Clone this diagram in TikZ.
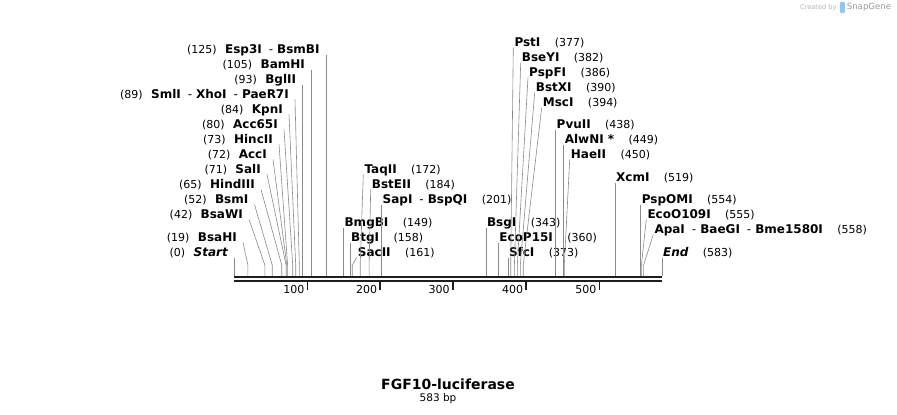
\documentclass[tikz,border=0pt]{standalone}
\usepackage{fontspec}
\setmainfont{DejaVu Sans}
\usetikzlibrary{positioning}
\definecolor{cutgray}{HTML}{8A8A8A}
\definecolor{bardark}{HTML}{1E1E1E}
\definecolor{logoblue}{HTML}{8CC8F5}
\definecolor{logogray}{HTML}{B4B4B4}
\newcommand{\enzsep}{\hspace{7pt}{\mdseries -}\hspace{4pt}} % between enzymes that share a site
\tikzset{
  enz/.style={ % enzyme names
    font=\fontsize{12}{14}\selectfont\bfseries,
    inner ysep=0pt, text height=9pt, text depth=1pt},
  lenz/.style={enz, inner xsep=6pt, anchor=south east}, % name sits left of its line
  renz/.style={enz, inner xsep=1pt, anchor=south west}, % name sits right of its line
  cutpos/.style={font=\fontsize{11}{13}\selectfont, inner sep=0pt}, % cut position in bp
  cut/.style={draw=cutgray, line width=0.6pt}, % line from name down to the site
  seqbar/.style={draw=bardark, line width=2pt},
  ruler/.style={draw=bardark, line width=1.6pt},
  ticklabel/.style={font=\fontsize{11}{13}\selectfont, inner sep=0pt, anchor=east}}

\begin{document}
\begin{tikzpicture}[x=1pt, y=-1pt] % pixel units, y grows downwards
  \useasboundingbox (0,0) rectangle (897,415);

  % sequence bar and ruler
  \draw[seqbar] (234,277) -- (662,277);
  \draw[seqbar] (234,280.7) -- (662,280.7);
  \draw[ruler] (307.3,281) -- (307.3,289.5);
  \draw[ruler] (380,281) -- (380,289.5);
  \draw[ruler] (452.7,281) -- (452.7,289.5);
  \draw[ruler] (526,281) -- (526,289.5);
  \draw[ruler] (599.3,281) -- (599.3,289.5);
  \node[ticklabel] (t100) at (304.5,289) {100};
  \node[ticklabel] (t200) at (377.2,289) {200};
  \node[ticklabel] (t300) at (449.9,289) {300};
  \node[ticklabel] (t400) at (523.2,289) {400};
  \node[ticklabel] (t500) at (596.5,289) {500};

  % cut sites on the bar
  \coordinate (c0) at (234,276);
  \coordinate (c19) at (247.9,276);
  \coordinate (c42) at (264.8,276);
  \coordinate (c52) at (272.2,276);
  \coordinate (c65) at (281.7,276);
  \coordinate (c71) at (286.1,276);
  \coordinate (c72) at (286.8,276);
  \coordinate (c73) at (287.6,276);
  \coordinate (c80) at (292.7,276);
  \coordinate (c84) at (295.7,276);
  \coordinate (c89) at (299.3,276);
  \coordinate (c93) at (302.3,276);
  \coordinate (c105) at (311.1,276);
  \coordinate (c125) at (325.8,276);
  \coordinate (c149) at (343.4,276);
  \coordinate (c158) at (350,276);
  \coordinate (c161) at (352.2,276);
  \coordinate (c172) at (360.2,276);
  \coordinate (c184) at (369.1,276);
  \coordinate (c201) at (381.5,276);
  \coordinate (c343) at (485.8,276);
  \coordinate (c360) at (498.2,276);
  \coordinate (c373) at (507.8,276);
  \coordinate (c377) at (510.7,276);
  \coordinate (c382) at (514.4,276);
  \coordinate (c386) at (517.3,276);
  \coordinate (c390) at (520.3,276);
  \coordinate (c394) at (523.2,276);
  \coordinate (c438) at (555.5,276);
  \coordinate (c449) at (563.6,276);
  \coordinate (c450) at (564.3,276);
  \coordinate (c519) at (615,276);
  \coordinate (c554) at (640.6,276);
  \coordinate (c555) at (641.4,276);
  \coordinate (c558) at (643.6,276);
  \coordinate (c583) at (661.9,276);

  % names left of the cluster
  \node[lenz] (esp3I) at (325.8,54.5) {Esp3I\enzsep BsmBI};
  \node[lenz] (bamHI) at (311.1,69.5) {BamHI};
  \node[lenz] (bglII) at (302.3,84.5) {BglII};
  \node[lenz] (smlI) at (295,99.5) {SmlI\enzsep XhoI\enzsep PaeR7I};
  \node[lenz] (kpnI) at (289,114.5) {KpnI};
  \node[lenz] (acc65I) at (284,129.5) {Acc65I};
  \node[lenz] (hincII) at (279,144.5) {HincII};
  \node[lenz] (accI) at (273,159.5) {AccI};
  \node[lenz] (salI) at (267,174.5) {SalI};
  \node[lenz] (hindIII) at (261,189.5) {HindIII};
  \node[lenz] (bsmI) at (254.5,204.5) {BsmI};
  \node[lenz] (bsaWI) at (249,219.5) {BsaWI};
  \node[lenz] (bsaHI) at (243,242.5) {BsaHI};
  \node[lenz] (start) at (234,257.5) {\itshape Start};
  \node[cutpos, base left=2pt of esp3I] (p125) {(125)};
  \node[cutpos, base left=2pt of bamHI] (p105) {(105)};
  \node[cutpos, base left=2pt of bglII] (p93) {(93)};
  \node[cutpos, base left=2pt of smlI] (p89) {(89)};
  \node[cutpos, base left=2pt of kpnI] (p84) {(84)};
  \node[cutpos, base left=2pt of acc65I] (p80) {(80)};
  \node[cutpos, base left=2pt of hincII] (p73) {(73)};
  \node[cutpos, base left=2pt of accI] (p72) {(72)};
  \node[cutpos, base left=2pt of salI] (p71) {(71)};
  \node[cutpos, base left=2pt of hindIII] (p65) {(65)};
  \node[cutpos, base left=2pt of bsmI] (p52) {(52)};
  \node[cutpos, base left=2pt of bsaWI] (p42) {(42)};
  \node[cutpos, base left=2pt of bsaHI] (p19) {(19)};
  \node[cutpos, base left=2pt of start] (p0) {(0)};

  % names right of their line
  \node[renz] (bmgBI) at (343.4,227.5) {BmgBI};
  \node[renz] (btgI) at (350,242.5) {BtgI};
  \node[renz] (sacII) at (356.7,257.5) {SacII};
  \node[renz] (taqII) at (363.3,174.5) {TaqII};
  \node[renz] (bstEII) at (370.7,189.5) {BstEII};
  \node[renz] (sapI) at (381.5,204.5) {SapI\enzsep BspQI};
  \node[renz] (bsgI) at (485.8,227.5) {BsgI};
  \node[renz] (ecoP15I) at (498.2,242.5) {EcoP15I};
  \node[renz] (sfcI) at (507.8,257.5) {SfcI};
  \node[renz] (pstI) at (513.3,47.5) {PstI};
  \node[renz] (bseYI) at (520.7,62.5) {BseYI};
  \node[renz] (pspFI) at (528,77.5) {PspFI};
  \node[renz] (bstXI) at (534.7,92.5) {BstXI};
  \node[renz] (mscI) at (541.7,107.5) {MscI};
  \node[renz] (pvuII) at (555.5,129.5) {PvuII};
  \node[renz] (alwNI) at (563.6,144.5) {AlwNI *};
  \node[renz] (haeII) at (569.7,159.5) {HaeII};
  \node[renz] (xcmI) at (615,182.5) {XcmI};
  \node[renz] (pspOMI) at (640.6,204.5) {PspOMI};
  \node[renz] (ecoO109I) at (646.3,219.5) {EcoO109I};
  \node[renz] (apaI) at (653.3,234.5) {ApaI\enzsep BaeGI\enzsep Bme1580I};
  \node[renz] (seqend) at (661.9,257.5) {\itshape End};
  \node[cutpos, base right=13pt of bmgBI] (p149) {(149)};
  \node[cutpos, base right=13pt of btgI] (p158) {(158)};
  \node[cutpos, base right=13pt of sacII] (p161) {(161)};
  \node[cutpos, base right=13pt of taqII] (p172) {(172)};
  \node[cutpos, base right=13pt of bstEII] (p184) {(184)};
  \node[cutpos, base right=13pt of sapI] (p201) {(201)};
  \node[cutpos, base right=13pt of bsgI] (p343) {(343)};
  \node[cutpos, base right=13pt of ecoP15I] (p360) {(360)};
  \node[cutpos, base right=13pt of sfcI] (p373) {(373)};
  \node[cutpos, base right=13pt of pstI] (p377) {(377)};
  \node[cutpos, base right=13pt of bseYI] (p382) {(382)};
  \node[cutpos, base right=13pt of pspFI] (p386) {(386)};
  \node[cutpos, base right=13pt of bstXI] (p390) {(390)};
  \node[cutpos, base right=13pt of mscI] (p394) {(394)};
  \node[cutpos, base right=13pt of pvuII] (p438) {(438)};
  \node[cutpos, base right=13pt of alwNI] (p449) {(449)};
  \node[cutpos, base right=13pt of haeII] (p450) {(450)};
  \node[cutpos, base right=13pt of xcmI] (p519) {(519)};
  \node[cutpos, base right=13pt of pspOMI] (p554) {(554)};
  \node[cutpos, base right=13pt of ecoO109I] (p555) {(555)};
  \node[cutpos, base right=13pt of apaI] (p558) {(558)};
  \node[cutpos, base right=13pt of seqend] (p583) {(583)};

  % lines from the names to the sites
  \draw[cut] (esp3I.south east) -- ([yshift=11pt]c125) -- (c125);
  \draw[cut] (bamHI.south east) -- ([yshift=11pt]c105) -- (c105);
  \draw[cut] (bglII.south east) -- ([yshift=11pt]c93) -- (c93);
  \draw[cut] (smlI.south east) -- ([yshift=11pt]c89) -- (c89);
  \draw[cut] (kpnI.south east) -- ([yshift=11pt]c84) -- (c84);
  \draw[cut] (acc65I.south east) -- ([yshift=11pt]c80) -- (c80);
  \draw[cut] (hincII.south east) -- ([yshift=11pt]c73) -- (c73);
  \draw[cut] (accI.south east) -- ([yshift=11pt]c72) -- (c72);
  \draw[cut] (salI.south east) -- ([yshift=11pt]c71) -- (c71);
  \draw[cut] (hindIII.south east) -- ([yshift=11pt]c65) -- (c65);
  \draw[cut] (bsmI.south east) -- ([yshift=11pt]c52) -- (c52);
  \draw[cut] (bsaWI.south east) -- ([yshift=11pt]c42) -- (c42);
  \draw[cut] (bsaHI.south east) -- ([yshift=11pt]c19) -- (c19);
  \draw[cut] (start.south east) -- (c0);
  \draw[cut] (bmgBI.south west) -- (c149);
  \draw[cut] (btgI.south west) -- (c158);
  \draw[cut] (sacII.south west) -- ([yshift=11pt]c161) -- (c161);
  \draw[cut] (taqII.south west) -- ([yshift=11pt]c172) -- (c172);
  \draw[cut] (bstEII.south west) -- ([yshift=11pt]c184) -- (c184);
  \draw[cut] (sapI.south west) -- (c201);
  \draw[cut] (bsgI.south west) -- (c343);
  \draw[cut] (ecoP15I.south west) -- (c360);
  \draw[cut] (sfcI.south west) -- (c373);
  \draw[cut] (pstI.south west) -- ([yshift=11pt]c377) -- (c377);
  \draw[cut] (bseYI.south west) -- ([yshift=11pt]c382) -- (c382);
  \draw[cut] (pspFI.south west) -- ([yshift=11pt]c386) -- (c386);
  \draw[cut] (bstXI.south west) -- ([yshift=11pt]c390) -- (c390);
  \draw[cut] (mscI.south west) -- ([yshift=11pt]c394) -- (c394);
  \draw[cut] (pvuII.south west) -- (c438);
  \draw[cut] (alwNI.south west) -- (c449);
  \draw[cut] (haeII.south west) -- ([yshift=11pt]c450) -- (c450);
  \draw[cut] (xcmI.south west) -- (c519);
  \draw[cut] (pspOMI.south west) -- (c554);
  \draw[cut] (ecoO109I.south west) -- ([yshift=11pt]c555) -- (c555);
  \draw[cut] (apaI.south west) -- ([yshift=11pt]c558) -- (c558);
  \draw[cut] (seqend.south west) -- (c583);

  % map name and size
  \node[font=\fontsize{14}{16}\selectfont\bfseries, inner sep=0pt] (mapname) at (448,384) {FGF10-luciferase};
  \node[font=\fontsize{10.5}{12}\selectfont, inner sep=0pt] (mapsize) at (438,399) {583 bp};

  % Created by SnapGene
  \node[font=\fontsize{6.6}{8}\selectfont, text=logogray, inner sep=0pt, anchor=west] (created) at (800,7.5) {Created by};
  \node[fill=logoblue, rounded corners=1pt, inner sep=0pt, minimum width=5pt, minimum height=11pt, right=3pt of created] (logo) {};
  \node[font=\fontsize{8.6}{10}\selectfont, text=logogray!85!black, inner sep=0pt, right=1.5pt of logo] (snapgene) {SnapGene};
\end{tikzpicture}
\end{document}
